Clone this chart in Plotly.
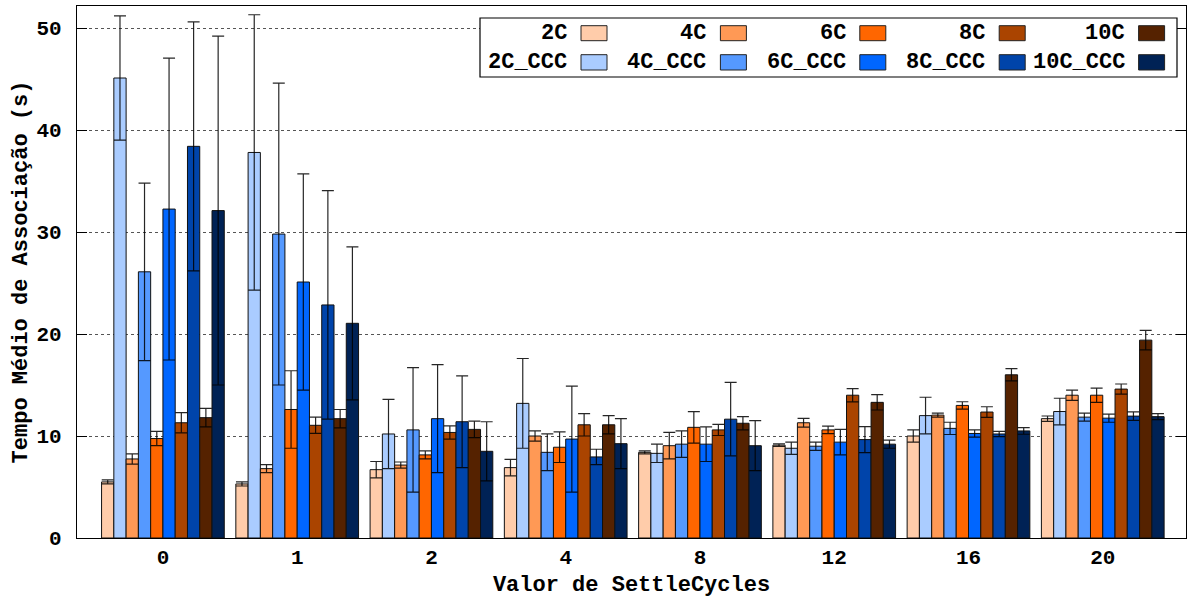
import plotly.graph_objects as go

categories = ["0", "1", "2", "4", "8", "12", "16", "20"]

series_names = ["2C", "2C_CCC", "4C", "4C_CCC", "6C", "6C_CCC", "8C", "8C_CCC", "10C", "10C_CCC"]

c2 = [5.5, 5.3, 6.7, 6.9, 8.4, 9.1, 10.0, 11.7]
c2_err = [0.2, 0.2, 0.8, 0.8, 0.15, 0.13, 0.6, 0.26]
c2_ccc = [45.1, 37.8, 10.2, 13.2, 8.3, 8.8, 12.0, 12.4]
c2_ccc_err = [6.1, 13.5, 3.4, 4.4, 0.9, 0.6, 1.8, 1.3]
c4 = [7.75, 6.8, 7.15, 10.0, 9.05, 11.3, 12.05, 14.0]
c4_err = [0.5, 0.4, 0.3, 0.5, 1.3, 0.43, 0.2, 0.5]
c4_ccc = [26.1, 29.8, 10.6, 8.4, 9.2, 9.0, 10.75, 11.85]
c4_ccc_err = [8.7, 14.8, 6.1, 1.8, 1.3, 0.4, 0.6, 0.4]
c6 = [9.75, 12.6, 8.15, 8.9, 10.85, 10.6, 13.0, 14.0]
c6_err = [0.7, 3.8, 0.4, 1.5, 1.55, 0.36, 0.36, 0.7]
c6_ccc = [32.25, 25.1, 11.7, 9.7, 9.2, 9.4, 10.25, 11.75]
c6_ccc_err = [14.8, 10.6, 5.3, 5.2, 1.7, 1.25, 0.36, 0.4]
c8 = [11.3, 11.05, 10.35, 11.1, 10.6, 14.0, 12.35, 14.6]
c8_err = [1.0, 0.8, 0.65, 1.1, 0.55, 0.65, 0.52, 0.5]
c8_ccc = [38.4, 22.85, 11.4, 7.95, 11.65, 9.65, 10.2, 11.95]
c8_ccc_err = [12.2, 11.2, 4.5, 0.75, 3.6, 1.27, 0.26, 0.42]
c10 = [11.8, 11.7, 10.65, 11.1, 11.25, 13.3, 16.0, 19.4]
c10_err = [0.9, 0.9, 0.8, 0.9, 0.65, 0.75, 0.6, 0.95]
c10_ccc = [32.1, 21.05, 8.5, 9.25, 9.05, 9.2, 10.5, 11.9]
c10_ccc_err = [17.1, 7.5, 2.9, 2.45, 2.45, 0.4, 0.33, 0.3]

colors = ["#FFCCAA", "#AACCFF", "#FF9955", "#5599FF", "#FF6600",
          "#0066FF", "#AA4400", "#0044AA", "#552200", "#002255"]

values = [c2, c2_ccc, c4, c4_ccc, c6, c6_ccc, c8, c8_ccc, c10, c10_ccc]
errors = [c2_err, c2_ccc_err, c4_err, c4_ccc_err, c6_err, c6_ccc_err,
          c8_err, c8_ccc_err, c10_err, c10_ccc_err]

FONT = "Liberation Mono"
xpos = list(range(len(categories)))

fig = go.Figure()
for name, vals, errs, col in zip(series_names, values, errors, colors):
    fig.add_trace(go.Bar(
        x=xpos, y=vals, name=name, showlegend=False,
        marker=dict(color=col, line=dict(color="#111111", width=1)),
        error_y=dict(type="data", array=errs, visible=True,
                     color="rgba(0,0,0,0.85)", thickness=1.2, width=6),
    ))

# Layout geometry (pixels)
L, R, T, B = 77, 1186, 6, 538
W, H = R - L, B - T

def px_x(p):
    return (p - L) / W

def px_y(p):
    return (B - p) / H

shapes = [dict(type="rect", xref="paper", yref="paper",
               x0=px_x(480), x1=px_x(1177), y0=px_y(77), y1=px_y(18),
               fillcolor="white", line=dict(color="black", width=1.2), layer="above")]
annotations = []
# legend: top row plain series, bottom row CCC series
for i in range(5):
    for row in range(2):
        idx = 2 * i + row
        sx0 = 581 + 139.4 * i
        if row == 0:
            sy0, sy1, ty = 25.7, 40.7, 33.5
        else:
            sy0, sy1, ty = 54.7, 70, 62.5
        shapes.append(dict(type="rect", xref="paper", yref="paper",
                           x0=px_x(sx0), x1=px_x(sx0 + 26), y0=px_y(sy1), y1=px_y(sy0),
                           fillcolor=colors[idx], line=dict(color="#222222", width=1),
                           layer="above"))
        annotations.append(dict(xref="paper", yref="paper", x=px_x(sx0 - 12), y=px_y(ty),
                                text=series_names[idx], showarrow=False,
                                xanchor="right", yanchor="middle",
                                font=dict(family=FONT, size=22, color="black", weight="bold")))

fig.update_layout(
    width=1187, height=598,
    margin=dict(l=L, r=1187 - R, t=T, b=598 - B),
    barmode="group", bargap=0.086, bargroupgap=0,
    plot_bgcolor="white", paper_bgcolor="white",
    font=dict(family=FONT, size=21, color="black", weight="bold"),
    shapes=shapes, annotations=annotations,
    xaxis=dict(
        tickmode="array", tickvals=xpos, ticktext=categories,
        range=[-0.64, len(categories) - 1 + 0.62],
        showline=True, linecolor="black", linewidth=1.2, mirror=True,
        ticks="", showgrid=False, zeroline=False,
        title=dict(text="Valor de SettleCycles", standoff=8,
                   font=dict(family=FONT, size=22, weight="bold")),
        tickfont=dict(family=FONT, size=21, weight="bold"),
    ),
    yaxis=dict(
        range=[0, 52.16], tickvals=[0, 10, 20, 30, 40, 50],
        showline=True, linecolor="black", linewidth=1.2, mirror="ticks",
        ticks="inside", ticklen=10, tickcolor="black",
        ticklabelstandoff=10,
        showgrid=True, gridcolor="#555555", griddash="dot", gridwidth=1.2,
        zeroline=False,
        title=dict(text="Tempo Médio de Associação (s)", standoff=2,
                   font=dict(family=FONT, size=22, weight="bold")),
        tickfont=dict(family=FONT, size=21, weight="bold"),
    ),
)

fig.write_html("out.html")
